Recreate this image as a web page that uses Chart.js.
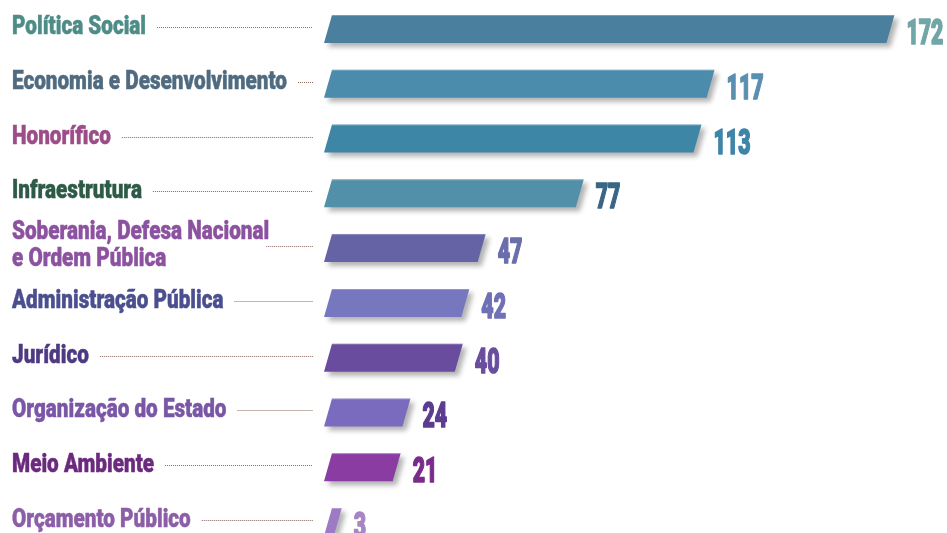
<!DOCTYPE html>
<html>
<head>
<meta charset="utf-8">
<script src="https://cdn.jsdelivr.net/npm/chart.js@4"></script>
<style>
  html, body { margin: 0; padding: 0; background: #ffffff; }
  canvas { display: block; }
</style>
</head>
<body>
<canvas id="c" width="947" height="533"></canvas>
<script>
const categories = [
  ["Política Social"],
  ["Economia e Desenvolvimento"],
  ["Honorífico"],
  ["Infraestrutura"],
  ["Soberania, Defesa Nacional", "e Ordem Pública"],
  ["Administração Pública"],
  ["Jurídico"],
  ["Organização do Estado"],
  ["Meio Ambiente"],
  ["Orçamento Público"]
];
const values = [172, 117, 113, 77, 47, 42, 40, 24, 21, 3];
const labelColors = ["#4e8c87", "#506b80", "#9b4d88", "#2d5b48", "#8c52a0", "#4b4f8f", "#4e3a82", "#7a56a6", "#6b2a7e", "#8c5ea8"];
const barColors = ["#4a7f9e", "#4b8bab", "#3e86a6", "#5290a9", "#6563a6", "#7677bf", "#6a4c9e", "#7a6bbf", "#8a3ca3", "#9c7bc4"];
const valueColors = ["#72a6a6", "#5a8fb0", "#3f85a8", "#3a6585", "#6a6eaa", "#7070b5", "#6a4e9e", "#5b3c90", "#7a2c8c", "#a786c4"];

const SLANT = 4;
const LABEL_FONT = "900 26px Roboto";
const VALUE_FONT = "900 35px Roboto";

const parallelogramBars = {
  id: 'parallelogramBars',
  beforeDatasetDraw() { return false; },
  afterDatasetsDraw(chart) {
    const ctx = chart.ctx;
    const meta = chart.getDatasetMeta(0);
    const yScale = chart.scales.y;
    ctx.save();
    ctx.font = LABEL_FONT;
    const refW = ctx.measureText("Economia e Desenvolvimento").width;
    const lsx = 275 / refW;
    ctx.font = VALUE_FONT;
    const vW = ctx.measureText("172").width;
    const vsx = 37 / vW;
    ctx.restore();

    meta.data.forEach((bar, i) => {
      const p = bar.getProps(['x', 'y', 'base', 'height'], true);
      const top = p.y - p.height / 2, bottom = p.y + p.height / 2;
      ctx.save();
      ctx.shadowColor = 'rgba(0,0,0,0.30)';
      ctx.shadowBlur = 5;
      ctx.shadowOffsetX = 4;
      ctx.shadowOffsetY = 4;
      ctx.beginPath();
      ctx.moveTo(p.base + SLANT, top);
      ctx.lineTo(p.x + SLANT, top);
      ctx.lineTo(p.x - SLANT, bottom);
      ctx.lineTo(p.base - SLANT, bottom);
      ctx.closePath();
      ctx.fillStyle = barColors[i];
      ctx.fill();
      ctx.restore();
      ctx.save();
      ctx.beginPath();
      ctx.moveTo(p.base + SLANT, top + 0.5);
      ctx.lineTo(p.x + SLANT, top + 0.5);
      ctx.strokeStyle = 'rgba(255,255,255,0.25)';
      ctx.lineWidth = 1;
      ctx.stroke();
      ctx.restore();

      // value label
      ctx.save();
      ctx.font = VALUE_FONT;
      ctx.fillStyle = valueColors[i];
      ctx.strokeStyle = valueColors[i];
      ctx.lineWidth = 1.6;
      ctx.lineJoin = 'round';
      ctx.textBaseline = 'alphabetic';
      ctx.translate(p.x + SLANT + 12, p.y + 15);
      ctx.scale(vsx, 1);
      ctx.fillText(String(values[i]), 0, 0);
      ctx.strokeText(String(values[i]), 0, 0);
      ctx.restore();

      // category label
      const lines = categories[i];
      const cy = yScale.getPixelForValue(i);
      const lineH = 27;
      const firstBase = cy + 5 - (lines.length - 1) * lineH / 2 - (lines.length > 1 ? 1 : 0);
      let maxEnd = 0;
      ctx.save();
      ctx.font = LABEL_FONT;
      ctx.fillStyle = labelColors[i];
      ctx.strokeStyle = labelColors[i];
      ctx.lineWidth = 0.5;
      lines.forEach((ln, k) => {
        ctx.save();
        ctx.translate(12, firstBase + k * lineH);
        ctx.scale(lsx, 1);
        ctx.fillText(ln, 0, 0);
        ctx.strokeText(ln, 0, 0);
        ctx.restore();
        maxEnd = Math.max(maxEnd, 12 + ctx.measureText(ln).width * lsx);
      });
      ctx.restore();

      // dotted leader
      const startX = lines.length > 1 ? maxEnd - 3 : maxEnd + 11;
      const endX = chart.chartArea.left - 15;
      ctx.save();
      ctx.beginPath();
      ctx.setLineDash([1, 1]);
      ctx.strokeStyle = '#8a6a5e';
      ctx.lineWidth = 1;
      const ly = Math.round(cy - 2) + 0.5;
      ctx.moveTo(startX, ly);
      ctx.lineTo(endX, ly);
      ctx.stroke();
      ctx.restore();
    });
  }
};

new Chart(document.getElementById('c'), {
  type: 'bar',
  data: {
    labels: categories.map(c => c.join(' ')),
    datasets: [{
      data: values,
      backgroundColor: barColors,
      barThickness: 28
    }]
  },
  options: {
    indexAxis: 'y',
    responsive: false,
    animation: false,
    events: [],
    layout: { padding: { left: 328, right: 30.4, top: 29, bottom: 11 } },
    plugins: { legend: { display: false }, tooltip: { enabled: false } },
    scales: {
      x: { display: false, min: 0, max: 180 },
      y: { display: false, offset: false }
    }
  },
  plugins: [parallelogramBars]
});
</script>
</body>
</html>
